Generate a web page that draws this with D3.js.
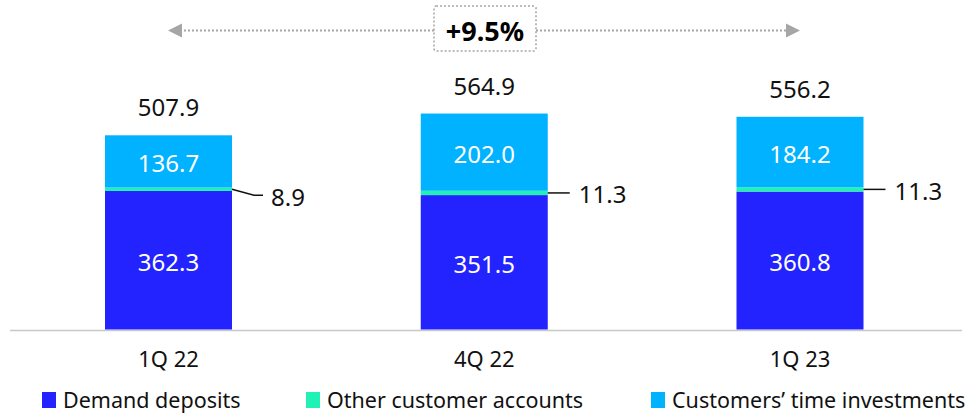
<!DOCTYPE html>
<html>
<head>
<meta charset="utf-8">
<script src="https://cdn.jsdelivr.net/npm/d3@7"></script>
<style>
  body { margin: 0; background: #fff; }
  text { font-family: "Noto Sans", "Open Sans", sans-serif; }
</style>
</head>
<body>
<svg id="vis"></svg>
<script>
const WIDTH = 979;
const HEIGHT = 414;

// data
const quarters = ["1Q 22", "4Q 22", "1Q 23"];
const demandDeposits = [362.3, 351.5, 360.8];
const otherAccounts = [8.9, 11.3, 11.3];
const timeInvestments = [136.7, 202.0, 184.2];
const totals = [507.9, 564.9, 556.2];
const growthLabel = "+9.5%";

const seriesNames = ["Demand deposits", "Other customer accounts", "Customers\u2019 time investments"];
const colors = ["#2323ff", "#1ff2b4", "#00b2ff"];

const SVG = d3.select("#vis").attr("width", WIDTH).attr("height", HEIGHT);

const x_scale = d3.scalePoint().domain(quarters).range([168.5, 800]);
const BAR_W = 127;
const y_scale = d3.scaleLinear().domain([0, 564.9]).range([329.5, 113.5]);

// stack the three series
const rows = quarters.map((q, i) => ({
  q: q,
  demand: demandDeposits[i],
  other: otherAccounts[i],
  time: timeInvestments[i],
  total: totals[i]
}));
const stack = d3.stack().keys(["demand", "other", "time"]);
const layers = stack(rows);

// baseline
SVG.append("line")
  .attr("x1", 10).attr("x2", 962)
  .attr("y1", 330.5).attr("y2", 330.5)
  .attr("stroke", "#c8c8c8").attr("stroke-width", 1.5);

const g_bars = SVG.append("g");
g_bars.selectAll("g.layer")
  .data(layers)
  .enter()
  .append("g")
  .attr("class", "layer")
  .attr("fill", (d, i) => colors[i])
  .selectAll("rect")
  .data(d => d)
  .enter()
  .append("rect")
  .attr("x", d => x_scale(d.data.q) - BAR_W / 2)
  .attr("y", d => y_scale(d[1]))
  .attr("width", BAR_W)
  .attr("height", d => y_scale(d[0]) - y_scale(d[1]));

// values inside bars (demand and time)
[0, 2].forEach(li => {
  SVG.selectAll(".val" + li)
    .data(layers[li])
    .enter()
    .append("text")
    .attr("x", d => x_scale(d.data.q))
    .attr("y", d => (y_scale(d[0]) + y_scale(d[1])) / 2 + 2.5)
    .attr("dy", "0.35em")
    .attr("text-anchor", "middle")
    .attr("fill", "#fff")
    .style("font-size", "24px")
    .text(d => (d[1] - d[0]).toFixed(1));
});

// leader lines for other customer accounts
layers[1].forEach((d, i) => {
  const x0 = x_scale(d.data.q) + BAR_W / 2;
  const yMid = (y_scale(d[0]) + y_scale(d[1])) / 2;
  const path = d3.path();
  let yLab, labX;
  if (i === 0) {
    // first one bends down a little
    yLab = yMid + 6;
    path.moveTo(x0, yMid);
    path.lineTo(x0 + 22, yLab);
    path.lineTo(x0 + 31, yLab);
    labX = x0 + 39;
  } else {
    yLab = yMid;
    path.moveTo(x0, yMid);
    path.lineTo(x0 + 22, yLab);
    labX = x0 + 31;
  }
  SVG.append("path")
    .attr("d", path.toString())
    .attr("fill", "none")
    .attr("stroke", "#111")
    .attr("stroke-width", 1.5);
  SVG.append("text")
    .attr("x", labX)
    .attr("y", yLab + 2)
    .attr("dy", "0.35em")
    .attr("fill", "#111")
    .style("font-size", "24px")
    .text(otherAccounts[i].toFixed(1));
});

// totals
SVG.selectAll(".total")
  .data(rows)
  .enter()
  .append("text")
  .attr("x", d => x_scale(d.q))
  .attr("y", d => y_scale(d.total) - 19)
  .attr("text-anchor", "middle")
  .attr("fill", "#111")
  .style("font-size", "24px")
  .text(d => d.total.toFixed(1));

// category labels
SVG.selectAll(".cat")
  .data(quarters)
  .enter()
  .append("text")
  .attr("x", d => x_scale(d))
  .attr("y", 366.5)
  .attr("text-anchor", "middle")
  .attr("fill", "#111")
  .style("font-size", "22px")
  .text(d => d);

// growth arrow
const arrowY = 30.5;
const ax0 = 168, ax1 = 800;
const boxL = 434, boxR = 536;
SVG.append("line")
  .attr("x1", ax0 + 12).attr("x2", boxL)
  .attr("y1", arrowY).attr("y2", arrowY)
  .attr("stroke", "#a6a6a6").attr("stroke-width", 2)
  .attr("stroke-dasharray", "2,2");
SVG.append("line")
  .attr("x1", boxR).attr("x2", ax1 - 12)
  .attr("y1", arrowY).attr("y2", arrowY)
  .attr("stroke", "#a6a6a6").attr("stroke-width", 2)
  .attr("stroke-dasharray", "2,2");
SVG.append("path")
  .attr("d", `M${ax0},${arrowY} L${ax0 + 14},${arrowY - 7} L${ax0 + 14},${arrowY + 7} Z`)
  .attr("fill", "#a6a6a6");
SVG.append("path")
  .attr("d", `M${ax1},${arrowY} L${ax1 - 14},${arrowY - 7} L${ax1 - 14},${arrowY + 7} Z`)
  .attr("fill", "#a6a6a6");
SVG.append("rect")
  .attr("x", boxL).attr("y", 6)
  .attr("width", boxR - boxL).attr("height", 45)
  .attr("rx", 2)
  .attr("fill", "#fff")
  .attr("stroke", "#a6a6a6").attr("stroke-width", 1.5)
  .attr("stroke-dasharray", "2,2");
SVG.append("text")
  .attr("x", (boxL + boxR) / 2)
  .attr("y", arrowY + 1)
  .attr("dy", "0.35em")
  .attr("text-anchor", "middle")
  .attr("fill", "#000")
  .style("font-size", "27px")
  .style("font-weight", "bold")
  .text(growthLabel);

// legend
const legendX = [42, 306, 651];
const legend = SVG.selectAll(".legend")
  .data(seriesNames)
  .enter()
  .append("g")
  .attr("transform", (d, i) => `translate(${legendX[i]}, 400)`);
legend.append("rect")
  .attr("x", 0).attr("y", -8)
  .attr("width", 14).attr("height", 16)
  .attr("fill", (d, i) => colors[i]);
legend.append("text")
  .attr("x", 21)
  .attr("y", 0)
  .attr("dy", "0.35em")
  .attr("fill", "#111")
  .style("font-size", "21.5px")
  .text(d => d);
</script>
</body>
</html>
